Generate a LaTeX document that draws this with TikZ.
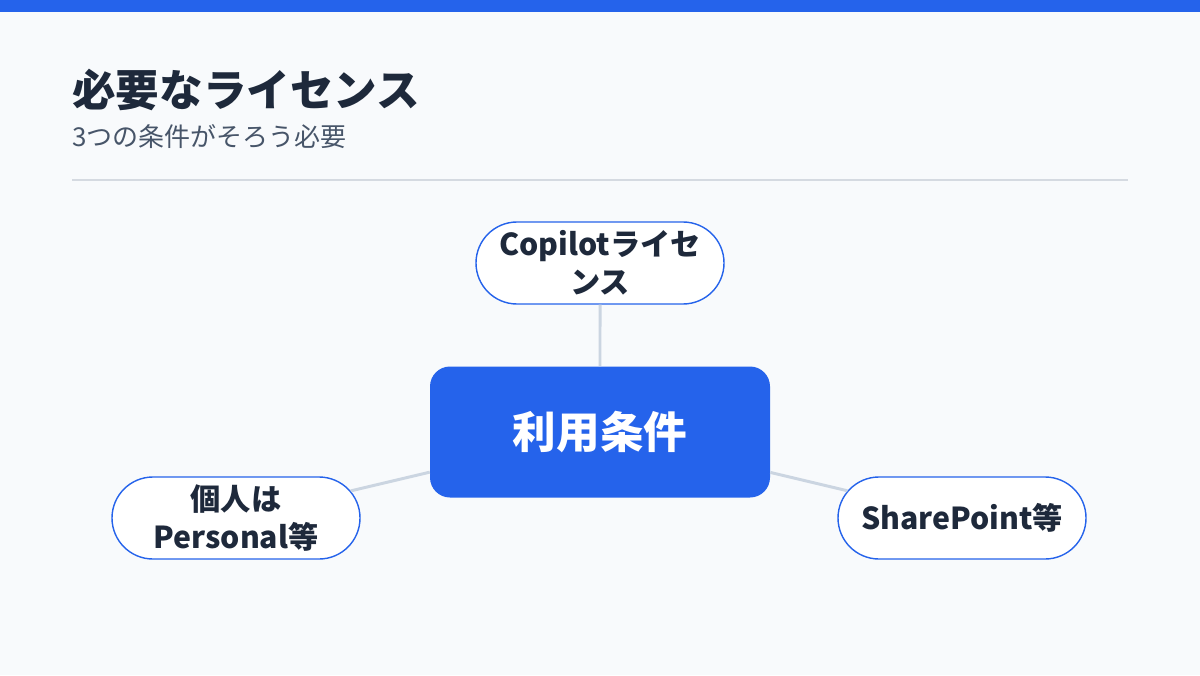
\documentclass[tikz,border=0pt]{standalone}
\usepackage{fontspec}
\setmainfont{Noto Sans CJK JP}
\usetikzlibrary{shapes.misc}

\definecolor{bgcol}{HTML}{F8FAFC}
\definecolor{accent}{HTML}{2563EB}
\definecolor{ink}{HTML}{1E293B}
\definecolor{subink}{HTML}{475569}
\definecolor{rulecol}{HTML}{D5DAE1}
\definecolor{linkcol}{HTML}{CBD5E1}

\tikzset{
	pill/.style={rounded rectangle, draw=accent, line width=1pt, fill=white, text=ink,
		minimum width=6.2cm, minimum height=2.05cm, inner sep=0pt, align=center,
		font=\fontsize{21.5}{27}\selectfont\bfseries},
	hub/.style={rectangle, rounded corners=0.5cm, fill=accent, text=white,
		minimum width=8.5cm, minimum height=3.275cm, inner sep=0pt,
		font=\fontsize{31}{36}\selectfont\bfseries},
	link/.style={draw=linkcol, line width=2.1pt}
}

\begin{document}
\begin{tikzpicture}
		\fill[bgcol] (0,0) rectangle (30,16.875);
		\useasboundingbox (0,0) rectangle (30,16.875);
		\fill[accent] (0,16.575) rectangle (30,16.875);
		\node[anchor=west, inner sep=0pt, text=ink, font=\fontsize{31}{36}\selectfont\bfseries] (title) at (1.8,14.625) {必要なライセンス};
		\node[anchor=west, inner sep=0pt, text=subink, font=\fontsize{18.5}{22}\selectfont] (subtitle) at (1.8,13.45) {3つの条件がそろう必要};
		\draw[rulecol, line width=1pt] (1.8,12.375) -- (28.2,12.375);
		\node[hub] (terms) at (15,6.075) {利用条件};
		\node[pill] (copilot) at (15,10.3) {Copilotライセ\\ンス};
		\node[pill] (personal) at (5.9,3.925) {個人は\\Personal等};
		\node[pill] (sharepoint) at (24.05,3.925) {SharePoint等};
		\draw[link] (copilot) -- (terms);
		\draw[link] (terms) -- (personal);
		\draw[link] (terms) -- (sharepoint);
	\end{tikzpicture}
\end{document}
